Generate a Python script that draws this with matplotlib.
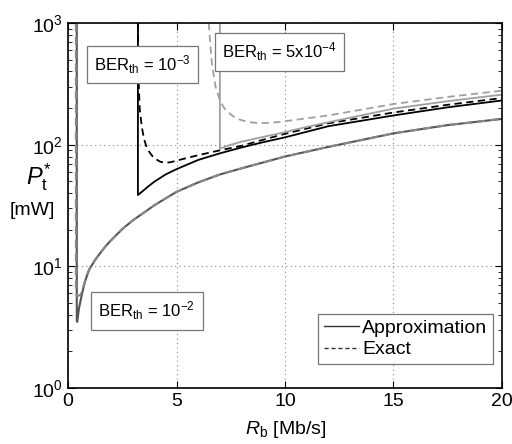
import numpy as np
import matplotlib
matplotlib.use("Agg")
import matplotlib.pyplot as plt
from matplotlib.ticker import LogLocator, NullFormatter

plt.rcParams['font.family'] = ['Liberation Sans', 'DejaVu Sans']
plt.rcParams['mathtext.fontset'] = 'custom'
plt.rcParams['mathtext.rm'] = 'Liberation Sans'
plt.rcParams['mathtext.it'] = 'Liberation Sans:italic'
plt.rcParams['mathtext.default'] = 'rm'

# BER_th = 1e-2
x_a2 = [0.40, 0.40, 0.42, 0.5, 0.6, 0.7, 0.8, 0.9, 1.0, 1.25, 1.5, 1.75, 2, 2.5, 3, 4, 5, 6, 7, 8, 10, 12, 15, 17.5, 20]
y_a2 = [1000, 3.6, 3.5, 4.5, 5.5, 6.6, 7.7, 8.7, 9.6, 11.3, 13, 14.8, 16.5, 20.3, 24, 32, 41, 49, 57, 64, 80, 96, 124, 145, 163]
x_e2 = [0.36, 0.36, 0.42, 0.55, 0.62, 0.7, 0.8, 0.9, 1.0, 1.25, 1.5, 1.75, 2, 2.5, 3, 4, 5, 6, 7, 8, 10, 12, 15, 17.5, 20]
y_e2 = [1000, 6.0, 5.7, 5.8, 6.1, 6.8, 7.8, 8.8, 9.7, 11.4, 13, 14.8, 16.5, 20.3, 24, 32, 41, 49, 57, 64, 80, 96, 124, 145, 163]

# BER_th = 1e-3
x_a3 = [3.22, 3.22, 3.4, 3.7, 4.0, 4.5, 5, 6, 7, 8, 9, 10, 12, 15, 17.5, 20]
y_a3 = [1000, 38.6, 41, 45.5, 50, 57, 63, 75, 85, 95, 105, 115, 142, 174, 203, 231]
x_e3 = [3.22, 3.24, 3.3, 3.4, 3.5, 3.6, 3.75, 3.95, 4.25, 4.5, 4.75, 5, 5.5, 6, 7, 8, 9, 10, 12, 15, 17.5, 20]
y_e3 = [1000, 400, 200, 140, 112, 98, 87, 78, 72.5, 71, 72, 74, 78, 82, 90, 98, 110, 123, 150, 184, 213, 242]

# BER_th = 5e-4
x_a4 = [7.0, 7.0, 7.5, 8, 9, 10, 11, 12, 15, 17.5, 20]
y_a4 = [1000, 93, 100, 106, 116, 127, 140, 153, 198, 228, 258]
x_e4 = [6.49, 6.55, 6.64, 6.8, 7.03, 7.2, 7.4, 7.6, 7.8, 8.0, 8.3, 8.7, 9.2, 9.6, 10, 11, 12, 15, 17.5, 20]
y_e4 = [1000, 700, 451, 300, 225, 200, 183, 172, 164, 159, 154, 151, 151, 153, 156, 165, 174, 216, 247, 278]

fig = plt.figure(figsize=(5.12, 4.44), dpi=100)
ax = fig.add_axes([0.133, 0.126, 0.847, 0.822])

ax.semilogy(x_a2, y_a2, color='#555555', lw=1.5)
ax.semilogy(x_e2, y_e2, color='#888888', lw=1.5, ls=(0, (4, 2.5)))
ax.semilogy(x_a3, y_a3, color='black', lw=1.3)
ax.semilogy(x_e3, y_e3, color='black', lw=1.3, ls=(0, (4, 2.5)))
ax.semilogy(x_a4, y_a4, color='#a0a0a0', lw=1.3)
ax.semilogy(x_e4, y_e4, color='#a0a0a0', lw=1.3, ls=(0, (4, 2.5)))

ax.set_xlim(0, 20)
ax.set_ylim(1, 1000)
ax.set_xticks([0, 5, 10, 15, 20])
ax.yaxis.set_minor_locator(LogLocator(base=10, subs=np.arange(2, 10)))
ax.yaxis.set_minor_formatter(NullFormatter())
ax.tick_params(which='both', direction='in', top=True, right=True, labelsize=14)
ax.tick_params(which='major', length=5)
ax.tick_params(which='minor', length=3)
ax.grid(True, which='major', ls=(0, (1, 3)), color='#888888', lw=0.8)
for s in ax.spines.values():
    s.set_linewidth(1.2)

box = dict(boxstyle='square,pad=0.45', fc='white', ec='#777777', lw=0.9)
ax.text(0.06, 0.87, r'BER$_{\rm th}$ = 10$^{-3}$', transform=ax.transAxes, fontsize=12, bbox=box)
ax.text(0.355, 0.905, r'BER$_{\rm th}$ = 5x10$^{-4}$', transform=ax.transAxes, fontsize=12, bbox=box)
ax.text(0.07, 0.195, r'BER$_{\rm th}$ = 10$^{-2}$', transform=ax.transAxes, fontsize=12, bbox=box)

h1, = ax.plot([], [], color='#333333', lw=1.0)
h2, = ax.plot([], [], color='#333333', lw=1.0, ls=(0, (3, 2)))
leg = ax.legend([h1, h2], ['Approximation', 'Exact'], loc='lower right',
                bbox_to_anchor=(0.98, 0.065), fontsize=14, fancybox=False,
                framealpha=1, edgecolor='#777777', handlelength=1.8,
                handletextpad=0.15, borderpad=0.3, labelspacing=0.2, borderaxespad=0)
leg.get_frame().set_linewidth(0.9)

fig.text(0.075, 0.6, r'$\mathit{P}_{\rm t}^{*}$', fontsize=17, ha='center', va='center')
fig.text(0.063, 0.525, '[mW]', fontsize=14, ha='center', va='center')
fig.text(0.557, 0.032, r'$\mathit{R}_{\rm b}$ [Mb/s]', fontsize=14, ha='center', va='center')

fig.savefig('out.png', dpi=100)
